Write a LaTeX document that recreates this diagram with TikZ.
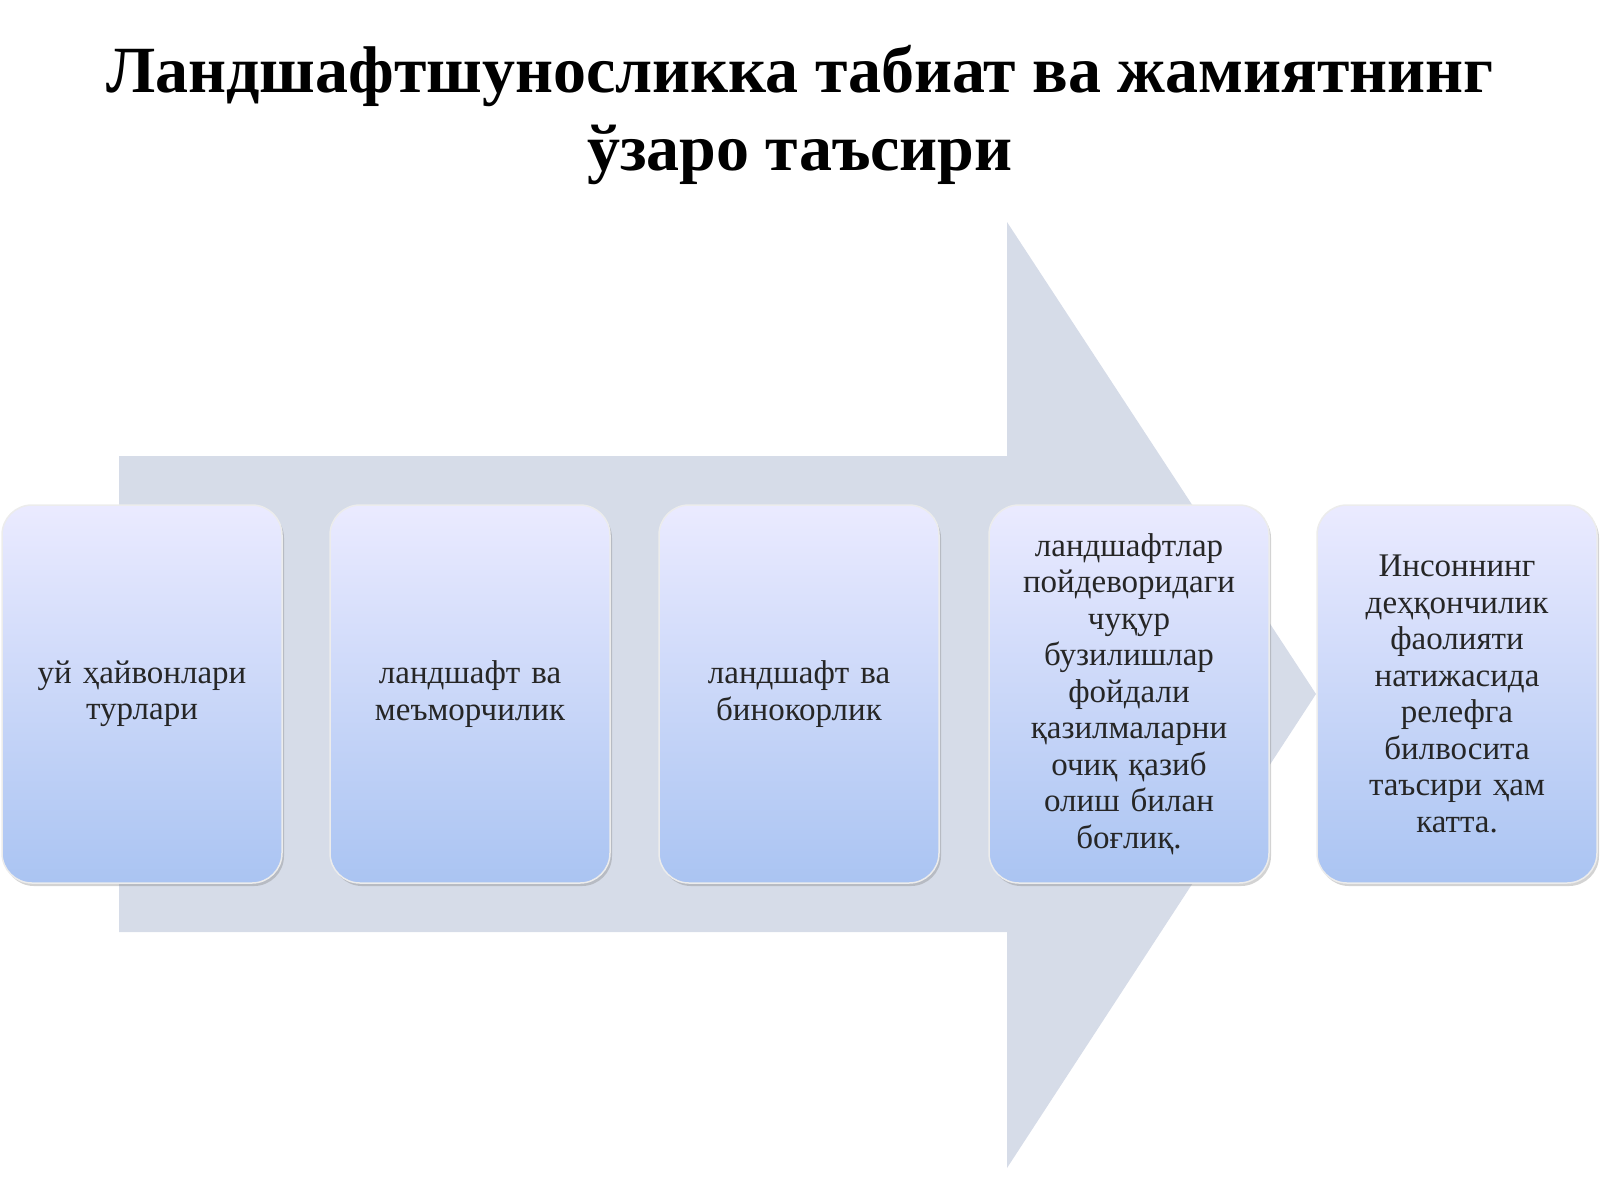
\documentclass[tikz,border=0pt]{standalone}
\usepackage{fontspec}
\setmainfont{Liberation Serif}
\usetikzlibrary{shadows}
\begin{document}
\begin{tikzpicture}[x=1pt,y=-1pt,
  box/.style={draw=white!85!gray, line width=1.5pt, rounded corners=30pt,
    top color=blue!8!white, bottom color={rgb,255:red,170;green,196;blue,242},
    drop shadow={opacity=0.35, shadow xshift=2pt, shadow yshift=-3pt},
    minimum width=280pt, minimum height=378pt, align=center, text width=270pt,
    font=\fontsize{33}{36.5}\selectfont, text=black!85}]
\useasboundingbox (0,0) rectangle (1600,1200);
\node[font=\bfseries\fontsize{66}{78}\selectfont, align=center] (title) at (800,115)
  {Ландшафтшуносликка табиат ва жамиятнинг\\ ўзаро таъсири};
\fill[fill={rgb,255:red,214;green,220;blue,232}] (119,456) -- (1007,456) -- (1007,222) -- (1316,694)
  -- (1007,1168) -- (1007,932) -- (119,932) -- cycle;
\node[box] (b1) at (142,694) {уй ҳайвонлари\\турлари};
\node[box] (b2) at (470,694) {ландшафт ва\\меъморчилик};
\node[box] (b3) at (799,694) {ландшафт ва\\бинокорлик};
\node[box] (b4) at (1129,694) {ландшафтлар\\пойдеворидаги\\чуқур\\бузилишлар\\фойдали\\қазилмаларни\\очиқ қазиб\\олиш билан\\боғлиқ.};
\node[box] (b5) at (1457,694) {Инсоннинг\\деҳқончилик\\фаолияти\\натижасида\\релефга\\билвосита\\таъсири ҳам\\катта.};
\end{tikzpicture}
\end{document}
